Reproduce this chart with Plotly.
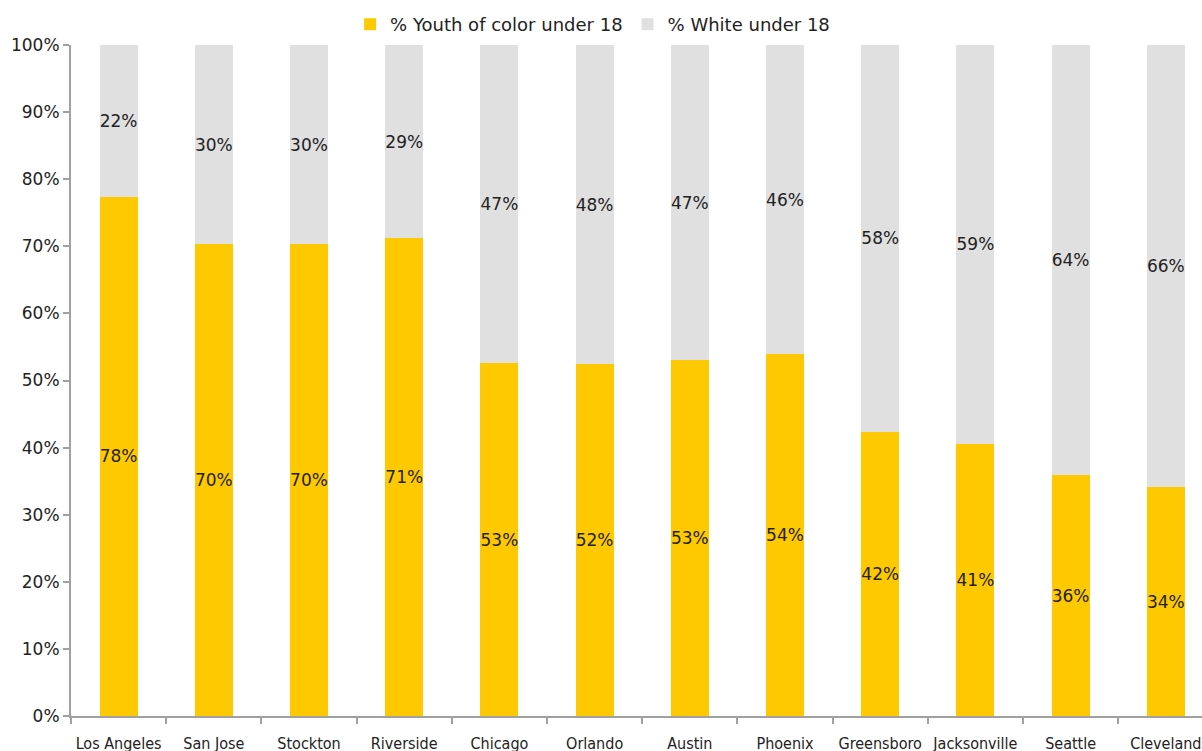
import plotly.graph_objects as go

cities = ["Los Angeles", "San Jose", "Stockton", "Riverside", "Chicago", "Orlando",
          "Austin", "Phoenix", "Greensboro", "Jacksonville", "Seattle", "Cleveland"]
youth_pct = [77.4, 70.3, 70.3, 71.2, 52.6, 52.4, 53.0, 53.9, 42.4, 40.6, 35.9, 34.1]
white_pct = [22.6, 29.7, 29.7, 28.8, 47.4, 47.6, 47.0, 46.1, 57.6, 59.4, 64.1, 65.9]
youth_labels = ["78%", "70%", "70%", "71%", "53%", "52%", "53%", "54%", "42%", "41%", "36%", "34%"]
white_labels = ["22%", "30%", "30%", "29%", "47%", "48%", "47%", "46%", "58%", "59%", "64%", "66%"]
y_ticks = [0, 10, 20, 30, 40, 50, 60, 70, 80, 90, 100]

FONT = "DejaVu Sans"
YELLOW = "#FFC900"
GRAY = "#E0E0E0"
AXIS = "#A0A0A0"

fig = go.Figure()
fig.add_trace(go.Bar(
    x=cities, y=youth_pct, name="% Youth of color under 18",
    marker=dict(color=YELLOW, line=dict(width=0)),
    text=youth_labels, textposition="inside", insidetextanchor="middle",
    constraintext="none", textangle=0,
    textfont=dict(family=FONT, size=17, color="#222222"),
    width=0.4, hoverinfo="x+y",
))
fig.add_trace(go.Bar(
    x=cities, y=white_pct, name="% White under 18",
    marker=dict(color=GRAY, line=dict(width=0)),
    text=white_labels, textposition="inside", insidetextanchor="middle",
    constraintext="none", textangle=0,
    textfont=dict(family=FONT, size=17, color="#222222"),
    width=0.4, hoverinfo="x+y",
))

fig.update_layout(
    barmode="stack",
    width=1202, height=751,
    margin=dict(l=71, r=0, t=45, b=35, autoexpand=False),
    paper_bgcolor="white", plot_bgcolor="white",
    font=dict(family=FONT, size=16, color="#222222"),
    showlegend=True,
    legend=dict(orientation="h", xref="container", yref="container",
                x=0.493, xanchor="center", y=0.992, yanchor="top",
                font=dict(family=FONT, size=18, color="#222222"),
                itemwidth=30, traceorder="normal"),
    xaxis=dict(
        type="category", range=[-0.5, 11.38],
        showline=True, linecolor=AXIS, linewidth=2,
        ticks="outside", tickson="boundaries", ticklen=6, tickwidth=2, tickcolor=AXIS,
        showgrid=False, tickangle=0,
        tickfont=dict(family="DejaVu Sans Condensed", size=16, color="#222222"),
        ticklabelstandoff=12,
    ),
    yaxis=dict(
        range=[0, 100], tickvals=y_ticks, ticktext=[f"{v}%" for v in y_ticks],
        showline=True, linecolor=AXIS, linewidth=2,
        ticks="outside", ticklen=6, tickwidth=2, tickcolor=AXIS,
        showgrid=False, zeroline=False,
        tickfont=dict(family=FONT, size=17, color="#222222"),
    ),
    bargap=0.6,
)

fig.write_html("out.html")
